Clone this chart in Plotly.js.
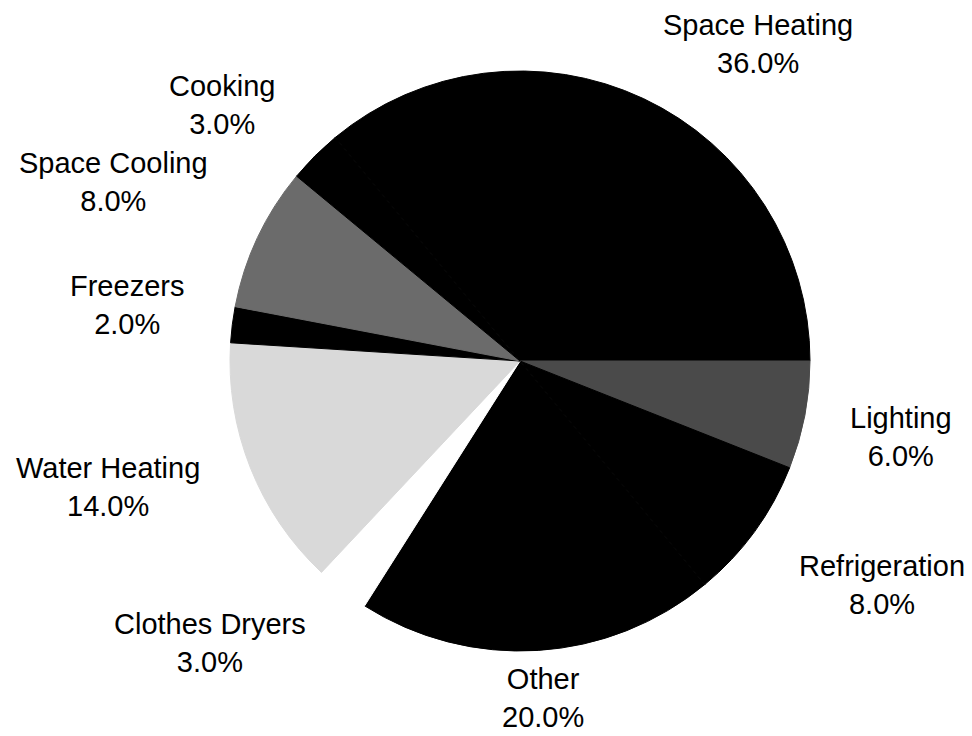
<!DOCTYPE html>
<html>
<head>
<meta charset="utf-8">
<script src="https://cdn.plot.ly/plotly-3.0.1.min.js"></script>
<style>html,body{margin:0;padding:0;background:#fff;}#chart{width:972px;height:736px;}</style>
</head>
<body>
<div id="chart"></div>
<script>
// Data
var categories = ["Space Heating", "Lighting", "Refrigeration", "Other", "Clothes Dryers",
                  "Water Heating", "Freezers", "Space Cooling", "Cooking"];
var shares = [36, 6, 8, 20, 3, 14, 2, 8, 3];

// Styles (not data)
var sliceColors = ["#000000", "#4a4a4a", "#000000", "#000000", "#ffffff",
                   "#d9d9d9", "#000000", "#6b6b6b", "#000000"];
// label centre positions in pixels (x from left, y from top)
var labelPos = [[758, 44], [901, 437], [882, 585], [543, 698], [210, 643],
                [108, 487], [127, 305], [113, 182], [222, 105]];

var W = 972, H = 736;
var cx = 520, cy = 361, r = 290;

var trace = {
  type: "pie",
  labels: categories,
  values: shares,
  sort: false,
  direction: "clockwise",
  rotation: -39.6,
  textinfo: "none",
  hoverinfo: "none",
  marker: {colors: sliceColors, line: {width: 1, color: sliceColors}},
  domain: {x: [(cx - r) / W, (cx + r) / W], y: [(H - cy - r) / H, (H - cy + r) / H]},
  showlegend: false
};

var total = shares.reduce(function (a, b) { return a + b; }, 0);
var annotations = categories.map(function (c, i) {
  return {
    text: c + "<br>" + (shares[i] / total * 100).toFixed(1) + "%",
    x: labelPos[i][0] / W,
    y: 1 - labelPos[i][1] / H,
    xref: "paper", yref: "paper",
    xanchor: "center", yanchor: "middle",
    showarrow: false,
    align: "center",
    font: {family: "Liberation Sans, Arial, sans-serif", size: 29, color: "#000"}
  };
});

var layout = {
  width: W, height: H,
  margin: {l: 0, r: 0, t: 0, b: 0},
  paper_bgcolor: "#ffffff",
  plot_bgcolor: "#ffffff",
  annotations: annotations,
  showlegend: false
};

Plotly.newPlot("chart", [trace], layout, {staticPlot: true, displayModeBar: false});
</script>
</body>
</html>
